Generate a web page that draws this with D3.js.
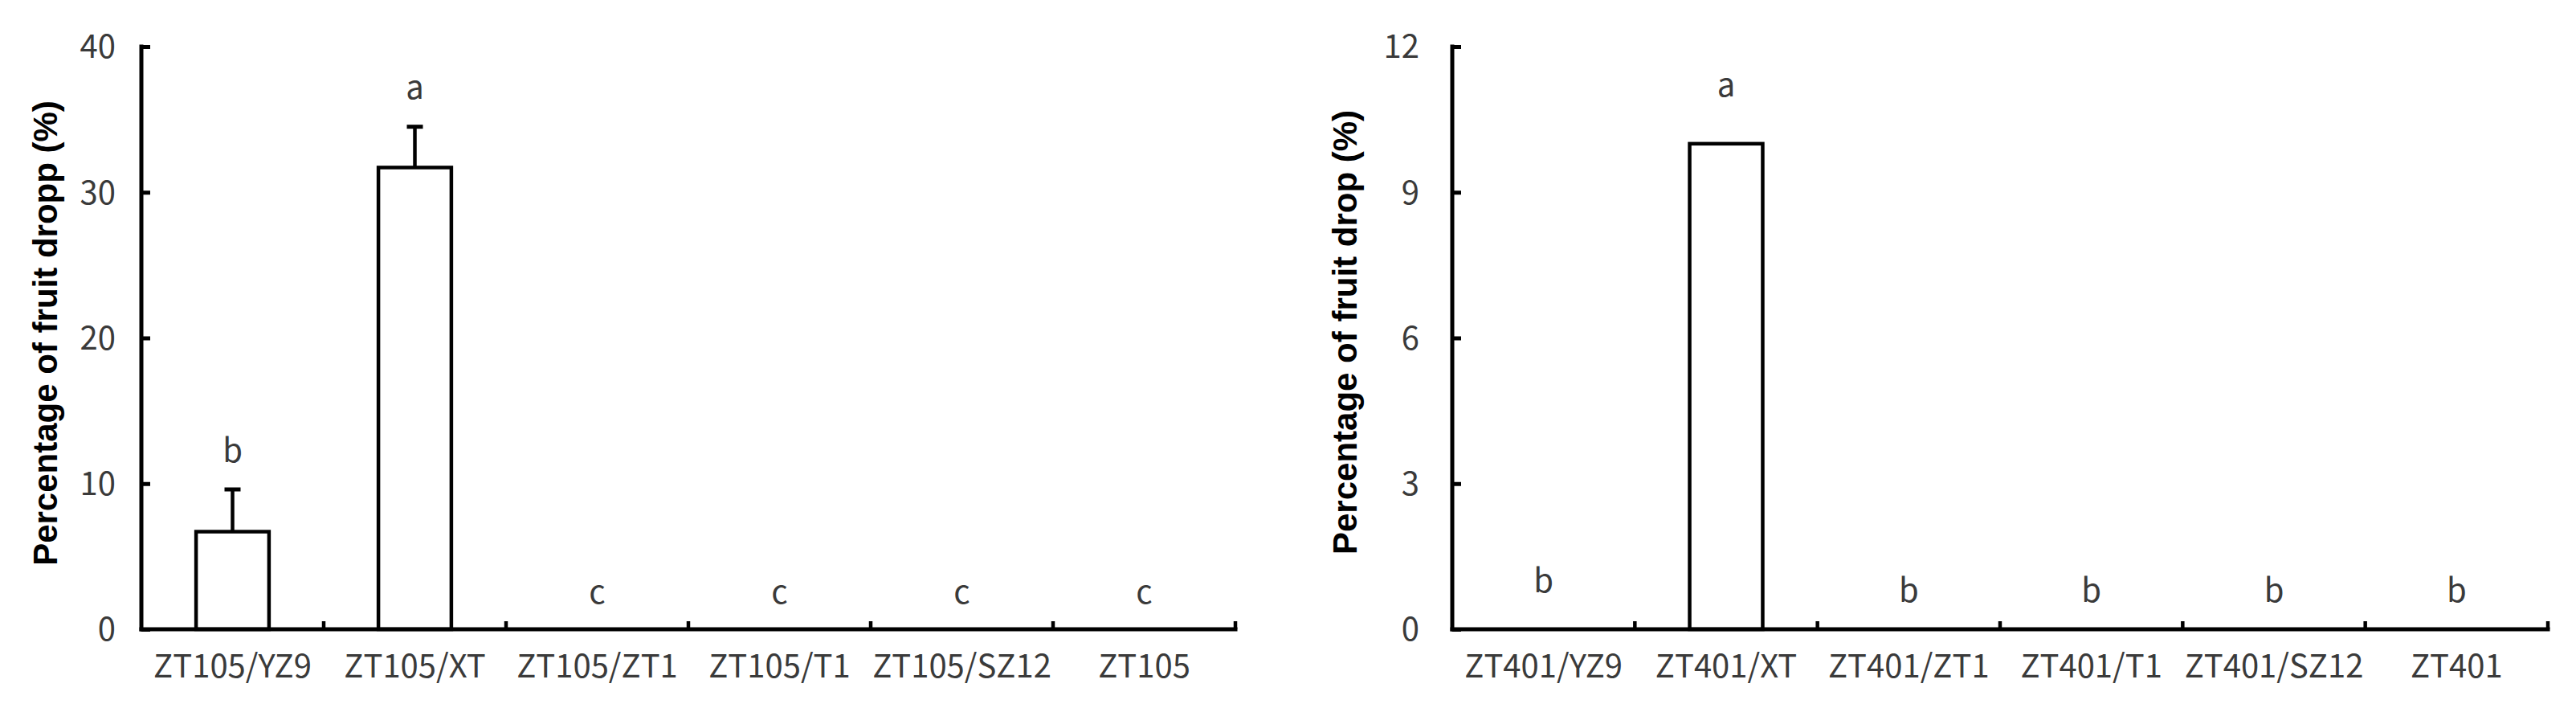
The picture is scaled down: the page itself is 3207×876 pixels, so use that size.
<!DOCTYPE html>
<html>
<head>
<meta charset="utf-8">
<script src="https://cdn.jsdelivr.net/npm/d3@7"></script>
<style>
  html, body { margin: 0; padding: 0; background: #fff; }
  svg { display: block; }
</style>
</head>
<body>
<svg id="chart" width="3207" height="876"></svg>
<script>
// ---------- data ----------
const categoriesA = ["ZT105/YZ9", "ZT105/XT", "ZT105/ZT1", "ZT105/T1", "ZT105/SZ12", "ZT105"];
const valuesA = [6.7, 31.7, 0, 0, 0, 0];
const errorsA = [2.9, 2.8, 0, 0, 0, 0];
const lettersA = ["b", "a", "c", "c", "c", "c"];
const letterLevelA = [11.5, 36.4, 1.75, 1.75, 1.75, 1.75];
const yTicksA = [0, 10, 20, 30, 40];
const yMaxA = 40;
const titleA = "Percentage of fruit dropp (%)";

const categoriesB = ["ZT401/YZ9", "ZT401/XT", "ZT401/ZT1", "ZT401/T1", "ZT401/SZ12", "ZT401"];
const valuesB = [0, 10, 0, 0, 0, 0];
const errorsB = [0, 0, 0, 0, 0, 0];
const lettersB = ["b", "a", "b", "b", "b", "b"];
const letterLevelB = [0.76, 10.97, 0.56, 0.56, 0.56, 0.56];
const yTicksB = [0, 3, 6, 9, 12];
const yMaxB = 12;
const titleB = "Percentage of fruit drop (%)";

// ---------- drawing ----------
const svg = d3.select("#chart");
const tickFont = "'Noto Sans CJK SC', 'Noto Sans', sans-serif";
const titleFont = "'Liberation Sans', Arial, sans-serif";
const textGray = "#3a3a3a";

function drawPanel(opt) {
  const g = svg.append("g");
  const x = d3.scaleBand().domain(opt.categories).range([opt.x0, opt.x1]).paddingInner(0).paddingOuter(0);
  const y = d3.scaleLinear().domain([0, opt.yMax]).range([opt.yBottom, opt.yTop]);
  const bw = x.bandwidth() * 0.4;

  // bars (only nonzero ones are visible)
  g.selectAll("rect.bar")
    .data(opt.values.map((v, i) => ({ c: opt.categories[i], v })).filter(d => d.v > 0))
    .join("rect")
    .attr("class", "bar")
    .attr("x", d => x(d.c) + (x.bandwidth() - bw) / 2)
    .attr("width", bw)
    .attr("y", d => y(d.v))
    .attr("height", d => y(0) - y(d.v))
    .attr("fill", "#fff")
    .attr("stroke", "#000")
    .attr("stroke-width", 4.5);

  // error bars (upper half only)
  const errData = opt.values.map((v, i) => ({ c: opt.categories[i], v, e: opt.errors[i] })).filter(d => d.e > 0);
  g.selectAll("line.err")
    .data(errData)
    .join("line")
    .attr("x1", d => x(d.c) + x.bandwidth() / 2)
    .attr("x2", d => x(d.c) + x.bandwidth() / 2)
    .attr("y1", d => y(d.v))
    .attr("y2", d => y(d.v + d.e))
    .attr("stroke", "#000").attr("stroke-width", 4.5);
  g.selectAll("line.cap")
    .data(errData)
    .join("line")
    .attr("x1", d => x(d.c) + x.bandwidth() / 2 - 10)
    .attr("x2", d => x(d.c) + x.bandwidth() / 2 + 10)
    .attr("y1", d => y(d.v + d.e))
    .attr("y2", d => y(d.v + d.e))
    .attr("stroke", "#000").attr("stroke-width", 5);

  // y axis
  const yAxis = d3.axisRight(y).tickValues(opt.yTicks).tickSize(11).tickFormat(() => "");
  const ya = g.append("g").attr("transform", `translate(${opt.x0},0)`).call(yAxis);
  ya.select(".domain").remove();
  ya.selectAll(".tick line").attr("stroke", "#000").attr("stroke-width", 5);
  g.append("line")
    .attr("x1", opt.x0).attr("x2", opt.x0)
    .attr("y1", y(opt.yMax) - 2.5).attr("y2", y(0) + 2.5)
    .attr("stroke", "#000").attr("stroke-width", 5);
  g.selectAll("text.ytick")
    .data(opt.yTicks)
    .join("text")
    .attr("x", opt.x0 - opt.yLabelGap)
    .attr("y", d => y(d))
    .attr("dy", "0.36em")
    .attr("text-anchor", "end")
    .attr("font-family", tickFont)
    .attr("font-size", 40)
    .attr("fill", textGray)
    .text(d => d);

  // x axis
  g.append("line")
    .attr("x1", opt.x0 - 2.5).attr("x2", opt.x1 + 2.5)
    .attr("y1", y(0)).attr("y2", y(0))
    .attr("stroke", "#000").attr("stroke-width", 5);
  const boundaries = opt.categories.map(c => x(c) + x.bandwidth()).slice(0);
  g.selectAll("line.xtick")
    .data(boundaries)
    .join("line")
    .attr("x1", d => d).attr("x2", d => d)
    .attr("y1", y(0)).attr("y2", y(0) - 10)
    .attr("stroke", "#000").attr("stroke-width", 4.5);
  g.selectAll("text.xlab")
    .data(opt.categories)
    .join("text")
    .attr("x", d => x(d) + x.bandwidth() / 2)
    .attr("y", opt.yBottom + 60)
    .attr("text-anchor", "middle")
    .attr("font-family", tickFont)
    .attr("font-size", 40)
    .attr("fill", textGray)
    .text(d => d);

  // significance letters
  g.selectAll("text.letter")
    .data(opt.letters.map((l, i) => ({ l, c: opt.categories[i], lv: opt.letterLevel[i] })))
    .join("text")
    .attr("x", d => x(d.c) + x.bandwidth() / 2)
    .attr("y", d => y(d.lv))
    .attr("text-anchor", "middle")
    .attr("font-family", tickFont)
    .attr("font-size", 40)
    .attr("fill", textGray)
    .text(d => d.l);

  // y title
  g.append("text")
    .attr("transform", `translate(${opt.titleX},${(opt.yTop + opt.yBottom) / 2 + opt.titleShift}) rotate(-90)`)
    .attr("text-anchor", "middle")
    .attr("font-family", titleFont)
    .attr("font-weight", "bold")
    .attr("font-size", 42)
    .attr("fill", "#000")
    .text(opt.title);
}

drawPanel({
  categories: categoriesA, values: valuesA, errors: errorsA, letters: lettersA, letterLevel: letterLevelA,
  yTicks: yTicksA, yMax: yMaxA, title: titleA,
  x0: 176, x1: 1538, yTop: 58, yBottom: 783, yLabelGap: 32, titleX: 71, titleShift: -6
});
drawPanel({
  categories: categoriesB, values: valuesB, errors: errorsB, letters: lettersB, letterLevel: letterLevelB,
  yTicks: yTicksB, yMax: yMaxB, title: titleB,
  x0: 1808, x1: 3172, yTop: 58, yBottom: 783, yLabelGap: 41, titleX: 1689, titleShift: -7
});
</script>
</body>
</html>
